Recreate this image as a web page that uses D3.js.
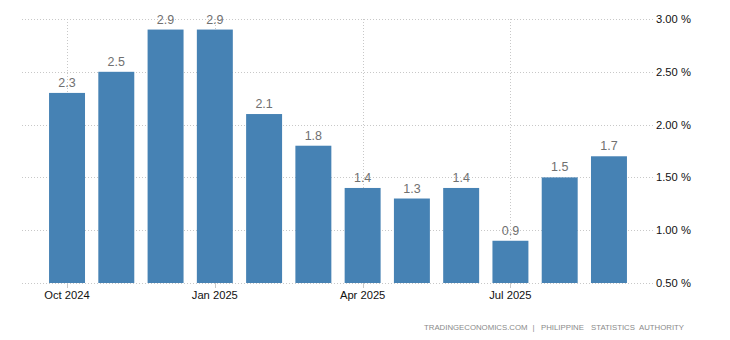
<!DOCTYPE html>
<html><head><meta charset="utf-8">
<script src="https://cdn.jsdelivr.net/npm/d3@7"></script>
<style>
html,body{margin:0;padding:0;background:#fff;}
svg{display:block;font-family:"Liberation Sans",Arial,sans-serif;}
</style></head>
<body>
<svg id="c" width="730" height="340"></svg>
<script>
const months = ["Oct 2024","Nov 2024","Dec 2024","Jan 2025","Feb 2025","Mar 2025","Apr 2025","May 2025","Jun 2025","Jul 2025","Aug 2025","Sep 2025"];
const values = [2.3, 2.5, 2.9, 2.9, 2.1, 1.8, 1.4, 1.3, 1.4, 0.9, 1.5, 1.7];
const xTickLabels = ["Oct 2024","Jan 2025","Apr 2025","Jul 2025"];
const yTicks = [0.5, 1.0, 1.5, 2.0, 2.5, 3.0];
const sourceParts = ["TRADINGECONOMICS.COM", "|", "PHILIPPINE", "STATISTICS", "AUTHORITY"];

const svg = d3.select("#c");
const x = d3.scaleBand().domain(months).range([42.4, 633.6]).paddingInner(0.27).paddingOuter(0.135);
const y = d3.scaleLinear().domain([0.5, 3.0]).range([283, 19]);
const gridL = 22, gridR = 653;

// horizontal gridlines
svg.append("g").selectAll("line").data(yTicks).join("line")
  .attr("x1", gridL).attr("x2", gridR)
  .attr("y1", d => Math.round(y(d)) + 0.5).attr("y2", d => Math.round(y(d)) + 0.5)
  .attr("stroke", "#c8c8c8").attr("stroke-dasharray", "1,2");

// vertical gridlines at quarter ticks
const cx = d => x(d) + x.bandwidth() / 2;
svg.append("g").selectAll("line").data(xTickLabels).join("line")
  .attr("x1", d => Math.round(cx(d)) + 0.5).attr("x2", d => Math.round(cx(d)) + 0.5)
  .attr("y1", y(3.0)).attr("y2", y(0.5))
  .attr("stroke", "#c8c8c8").attr("stroke-dasharray", "1,2");

// bars
svg.append("g").selectAll("rect").data(values).join("rect")
  .attr("x", (d, i) => x(months[i]))
  .attr("width", x.bandwidth())
  .attr("y", d => y(d))
  .attr("height", d => y(0.5) - y(d))
  .attr("fill", "#4682b4");

// value labels
svg.append("g").selectAll("text").data(values).join("text")
  .attr("x", (d, i) => cx(months[i]))
  .attr("y", d => y(d) - 6)
  .attr("text-anchor", "middle")
  .attr("font-size", 12.5)
  .attr("fill", "#707070")
  .text(d => d.toFixed(1));

// x ticks
const xg = svg.append("g");
xg.selectAll("line").data(xTickLabels).join("line")
  .attr("x1", d => Math.round(cx(d)) + 0.5).attr("x2", d => Math.round(cx(d)) + 0.5)
  .attr("y1", y(0.5)).attr("y2", y(0.5) + 5)
  .attr("stroke", "#c8c8c8");
xg.selectAll("text").data(xTickLabels).join("text")
  .attr("x", d => cx(d)).attr("y", 299)
  .attr("text-anchor", "middle").attr("font-size", 11.2).attr("fill", "#111")
  .text(d => d);

// y labels
svg.append("g").selectAll("text").data(yTicks).join("text")
  .attr("x", 656).attr("y", d => y(d) + 4)
  .attr("font-size", 11.2).attr("fill", "#111")
  .text(d => d.toFixed(2) + " %");

// source
const srcX = [424, 532.5, 541, 591, 639];
svg.append("g").selectAll("text").data(sourceParts).join("text")
  .attr("x", (d, i) => srcX[i]).attr("y", 329.5)
  .attr("font-size", 7.8).attr("fill", "#8a8a8a")
  .text(d => d);
</script>
</body></html>
